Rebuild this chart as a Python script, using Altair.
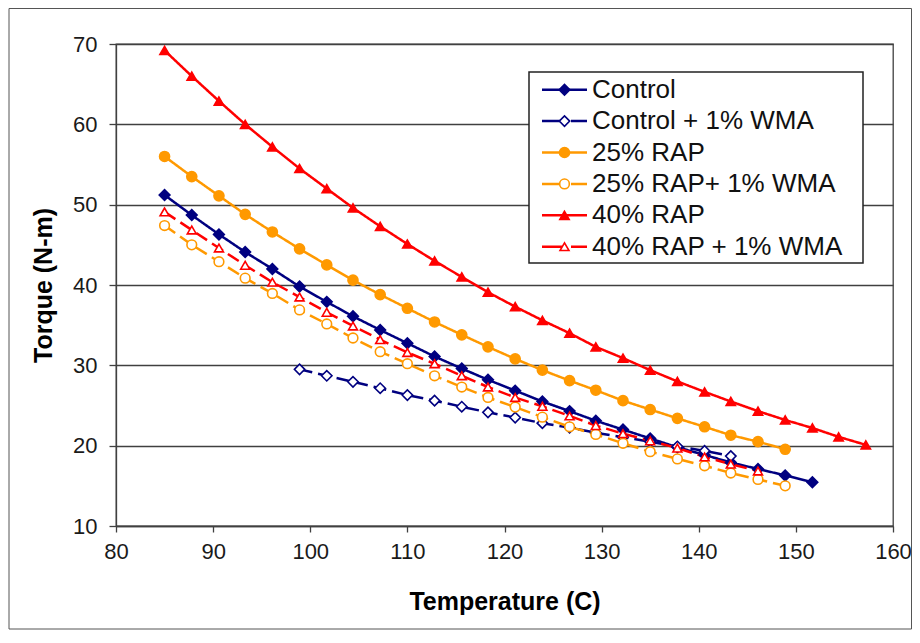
import altair as alt
import pandas as pd

# ---------------- data ----------------
temps_c = [85.0, 87.8, 90.6, 93.3, 96.1, 98.9, 101.7, 104.4, 107.2, 110.0,
           112.8, 115.6, 118.3, 121.1, 123.9, 126.7, 129.4, 132.2, 135.0,
           137.8, 140.6, 143.3, 146.1, 148.9, 151.7, 154.4, 157.2]

series_names = ["Control", "Control + 1% WMA", "25% RAP", "25% RAP+ 1% WMA",
                "40% RAP", "40% RAP + 1% WMA"]

control = [51.2, 48.7, 46.3, 44.1, 42.0, 39.8, 37.9, 36.1, 34.4, 32.75, 31.1,
           29.6, 28.2, 26.85, 25.5, 24.3, 23.1, 22.0, 20.9, 19.8, 18.85, 17.9,
           17.1, 16.3, 15.45]
control_wma = [29.5, 28.7, 27.95, 27.15, 26.3, 25.6, 24.85, 24.15, 23.5, 22.8,
               22.25, 21.6, 21.05, 20.5, 19.9, 19.35, 18.7]
rap25 = [56.0, 53.5, 51.1, 48.8, 46.6, 44.5, 42.5, 40.6, 38.8, 37.1, 35.4,
         33.8, 32.3, 30.8, 29.4, 28.1, 26.9, 25.6, 24.5, 23.4, 22.35, 21.3,
         20.5, 19.55]
rap25_wma = [47.4, 45.0, 42.9, 40.85, 38.95, 36.9, 35.15, 33.4, 31.7, 30.2,
             28.7, 27.3, 26.0, 24.8, 23.55, 22.35, 21.4, 20.3, 19.25, 18.35,
             17.5, 16.6, 15.8, 15.0]
rap40 = [69.2, 66.0, 62.9, 60.0, 57.2, 54.5, 52.0, 49.6, 47.3, 45.1, 43.0,
         41.0, 39.1, 37.3, 35.6, 34.0, 32.3, 30.9, 29.4, 28.0, 26.7, 25.5,
         24.3, 23.2, 22.2, 21.1, 20.1]
rap40_wma = [49.1, 46.85, 44.6, 42.45, 40.35, 38.5, 36.6, 34.9, 33.2, 31.6,
             30.2, 28.7, 27.3, 26.0, 24.9, 23.7, 22.5, 21.5, 20.6, 19.7, 18.6,
             17.7, 16.85]
start_index = [0, 5, 0, 0, 0, 0]

x_ticks = [80, 90, 100, 110, 120, 130, 140, 150, 160]
y_ticks = [10, 20, 30, 40, 50, 60, 70]

# ---------------- styles ----------------
colors = ["#000080", "#000080", "#FF9900", "#FF9900", "#FF0000", "#FF0000"]
fills = ["#000080", "#FFFFFF", "#FF9900", "#FFFFFF", "#FF0000", "#FFFFFF"]
shapes = ["diamond", "diamond", "circle", "circle", "triangle-up", "triangle-up"]
dashes = [[1, 0], [13, 6], [1, 0], [13, 6], [1, 0], [13, 6]]
sizes = [115, 80, 95, 85, 125, 95]
FONT = "Liberation Sans, Arial, Helvetica, sans-serif"

rows = []
for name, vals, s in zip(series_names,
                         [control, control_wma, rap25, rap25_wma, rap40, rap40_wma],
                         start_index):
    for t, v in zip(temps_c[s:], vals):
        rows.append({"series": name, "temp": t, "torque": v})
df = pd.DataFrame(rows)

legend_df = pd.DataFrame({
    "series": series_names,
    "ly": [45.7 + 31.4 * i for i in range(len(series_names))],
    "dashed": [i % 2 == 1 for i in range(len(series_names))],
})

W, H = 777, 482
LEFT = 108

color_sc = alt.Scale(domain=series_names, range=colors)
fill_sc = alt.Scale(domain=series_names, range=fills)
shape_sc = alt.Scale(domain=series_names, range=shapes)
dash_sc = alt.Scale(domain=series_names, range=dashes)
size_sc = alt.Scale(domain=series_names, range=sizes)

x_enc = alt.X("temp:Q",
              scale=alt.Scale(domain=[80, 160], nice=False, zero=False),
              axis=alt.Axis(values=x_ticks, title="Temperature (C)", grid=False,
                            tickSize=6, labelPadding=9, labelFlush=False,
                            labelOverlap=False, titleX=W / 2, titleY=83,
                            titleBaseline="alphabetic", titleAlign="center"))
y_enc = alt.Y("torque:Q",
              scale=alt.Scale(domain=[10, 70], nice=False, zero=False),
              axis=alt.Axis(values=y_ticks, title="Torque (N-m)", grid=True,
                            tickSize=7, labelPadding=12, labelOverlap=False,
                            titleX=-73, titleY=H / 2, titleAngle=270,
                            titleBaseline="middle", titleAlign="center"))

frame = alt.Chart(legend_df).mark_rect(
    fill=None, stroke="#555555", strokeWidth=1, clip=False
).encode(
    x=alt.value(1 - LEFT), x2=alt.value(903.5 - LEFT), y=alt.value(-35.5), y2=alt.value(585)
).transform_filter("datum.ly < 50")

lines = alt.Chart(df).mark_line(strokeWidth=2.5).encode(
    x=x_enc, y=y_enc,
    color=alt.Color("series:N", scale=color_sc, legend=None),
    strokeDash=alt.StrokeDash("series:N", scale=dash_sc, legend=None),
    detail="series:N",
)

points = alt.Chart(df).mark_point(filled=True, opacity=1, strokeWidth=1.6).encode(
    x="temp:Q", y="torque:Q",
    fill=alt.Fill("series:N", scale=fill_sc, legend=None),
    stroke=alt.Stroke("series:N", scale=color_sc, legend=None),
    shape=alt.Shape("series:N", scale=shape_sc, legend=None),
    size=alt.Size("series:N", scale=size_sc, legend=None),
)

legend_box = alt.Chart(legend_df).mark_rect(
    fill="white", stroke="#222222", strokeWidth=1.5
).encode(
    x=alt.value(413), x2=alt.value(747), y=alt.value(28), y2=alt.value(219)
).transform_filter("datum.ly < 50")

legend_solid = alt.Chart(legend_df).mark_rule(strokeWidth=2.5).encode(
    x=alt.value(426), x2=alt.value(471),
    y=alt.Y("ly:Q", scale=None),
    color=alt.Color("series:N", scale=color_sc, legend=None),
).transform_filter("!datum.dashed")

legend_dashed = alt.Chart(legend_df).mark_rule(strokeWidth=2.5, strokeDash=[20, 9]).encode(
    x=alt.value(426), x2=alt.value(471),
    y=alt.Y("ly:Q", scale=None),
    color=alt.Color("series:N", scale=color_sc, legend=None),
).transform_filter("datum.dashed")

legend_pts = alt.Chart(legend_df).mark_point(filled=True, opacity=1, strokeWidth=1.6).encode(
    x=alt.value(448.5),
    y=alt.Y("ly:Q", scale=None),
    fill=alt.Fill("series:N", scale=fill_sc, legend=None),
    stroke=alt.Stroke("series:N", scale=color_sc, legend=None),
    shape=alt.Shape("series:N", scale=shape_sc, legend=None),
    size=alt.Size("series:N", scale=size_sc, legend=None),
)

legend_txt = alt.Chart(legend_df).mark_text(
    align="left", baseline="middle", fontSize=26, font=FONT, color="#111111"
).encode(
    x=alt.value(476),
    y=alt.Y("ly:Q", scale=None),
    text="series:N",
)

chart = alt.layer(
    frame, lines, points, legend_box, legend_solid, legend_dashed, legend_pts, legend_txt
).properties(
    width=W, height=H,
    autosize=alt.AutoSizeParams(type="none"),
    padding={"left": LEFT, "top": 36, "right": 904 - LEFT - W, "bottom": 104},
    background="white",
).configure_view(
    stroke="#404040", strokeWidth=1.3
).configure_axis(
    labelFont=FONT, labelFontSize=22, labelColor="#1a1a1a",
    titleFont=FONT, titleFontSize=25, titleFontWeight="bold", titleColor="#000000",
    domainColor="#404040", domainWidth=1.3,
    tickColor="#404040", tickWidth=1.3,
    gridColor="#404040", gridWidth=1.3, gridOpacity=1,
)

chart.save("out.html", embed_options={"renderer": "svg", "actions": False})
